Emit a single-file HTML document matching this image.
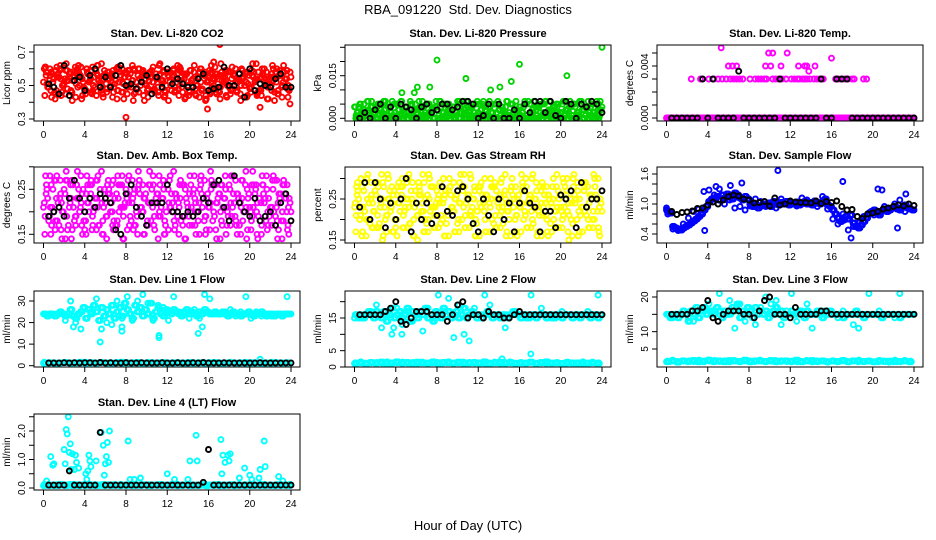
<!DOCTYPE html>
<html><head><meta charset="utf-8"><style>
html,body{margin:0;padding:0;background:#fff;}
svg{display:block;font-family:"Liberation Sans",sans-serif;}
</style></head><body>
<svg id="chart" width="936" height="540" viewBox="0 0 936 540" xmlns="http://www.w3.org/2000/svg">
<text x="468" y="14" font-size="13" text-anchor="middle" xml:space="preserve">RBA_091220  Std. Dev. Diagnostics</text>
<text x="468" y="530" font-size="13" text-anchor="middle">Hour of Day (UTC)</text>
</svg>
<script>
const xTicks=[0,4,8,12,16,20,24];
// CO2 (x0.01)
const co2A=[52,56,49,58,54,47,55,60,51,53,57,46,55,59,50,54,48,58,53,61,49,56,52,45,57,54,50,59,53,47,56,51,58,55,49,60,52,46,55,57,50,53,59,48,54,56,51,47,58,52,55,49,57,53,46,56,50,59,54,48,55,52,57,44,53,58,50,55,47,56,52,59,49,54,57,46,53,55,50,58,48,56,52,45,54,57,51,49,55,53,58,47,56,52,54,50,55];
const co2B=[44,60,42,62,45,58,43,61,47,59,44,63,46,57,42,60,45,62,48,58,43,61,46,59,41,60,44,57,47,62,43,58,46,61,42,59,45,60,41,57,46,63,44,58,47,60,43,59];
const co2OutH=[17.1,16.5,8,15.9,21,22.4,23.9,13,3.4,7.3];
const co2OutV=[74.5,64,31,36,37,41,39,62,62,60];
const co2K=[51,49,45,62,44,53,55,47,56,60,49,55,49,56,62,50,51,48,52,56,45,55,49,60,51,54,51,49,49,54,57,47,48,49,61,50,50,57,43,60,47,51,50,49,54,57,49,49];
// Pressure (x0.001)
const prA=[4,2,5,1,3,6,0,4,2,5,3,1,6,4,2,0,5,3,6,1,4,2,5,0,3,6,2,4,1,5,3,0,4,6,2,5,1,3,4,0,6,2,5,3,1,4,0,5,2,3,6,1,4,2,0,5,3,4,1,6,2,5,0,3,4,2,6,1,5,3,0,4,2,5,6,1,3,4,0,5,2,6,3,1,4,5,0,2,6,3,4,1,5,2,6,3,4];
const prB=[0,0,1,0,0,2,0,0,1,0,0,0,2,0,1,0,0,0,1,0,0,2,0,0,0,1,0,0,0,2,0,0,1,0,0,0,1,0,2,0,0,0,1,0,0,0,2,0];
const prOutH=[8,16,10.8,20.6,15.2,13.2,14.1,6.1,7.3,5.8,4.6,24];
const prOutV=[20.5,19,14,15,13,10,11,11,11,9,9,25];
const prK=[0,2,0,3,5,0,4,0,5,4,3,0,4,5,2,3,5,5,3,4,6,6,5,0,1,5,0,5,0,0,3,0,5,2,6,6,2,6,1,0,6,5,0,5,4,6,5,2];
// Temp (x0.0001)
const tpA=[0,0,0,0,0,0,0,0,0,0,0,0,0,0,0,0,0,0,0,0,0,0,0,0,0,0,0,0,0,0,0,0,0,0,0,0,0,0,0,0,0,0,0,0,0,0,0,0,0,0,0,0,0,0,0,0,0,0,0,0,0,0,0,0,0,0,0,0,0,0,0,0,0,0,0,0,0,0,0,0,0,0,0,0,0,0,0,0,0,0,0,0,0,0,0,0,0];
const tpMidH=[2.4,3.3,4.1,4.6,5,5.4,5.8,6.2,6.5,6.8,7.1,7.4,8.1,8.6,8.9,9.2,9.5,9.7,10.3,10.6,10.9,11.2,11.6,12.1,12.4,12.7,12.9,13.2,13.4,13.6,13.9,14.3,14.6,14.9,15.2,16.4,16.7,17,17.3,17.6,18,18.2,19.1,19.4,5.3,9.9,10.3,11.7,16,6,6.4,6.8,9.6,10.1,11.1,12.8,13.4,13.6,14.4,13.8];
const tpMidV=[30,30,30,30,30,30,30,30,30,30,30,30,30,30,30,30,30,30,30,30,30,30,30,30,30,30,30,30,30,30,30,30,30,30,30,30,30,30,30,30,30,30,30,30,54,50,50,50,46,40,40,40,40,40,40,40,40,40,40,36];
const tpK=[0,0,0,0,0,0,30,0,30,0,0,0,0,36,0,0,0,0,0,0,0,30,0,0,0,0,0,0,0,30,0,0,30,30,30,0,0,0,0,0,0,0,0,0,0,0,0,0];
// Amb box temp (x0.01)
const abA=[21,24,18,26,20,23,17,22,25,19,21,27,18,23,20,24,16,22,26,19,23,21,25,18,22,24,20,27,17,23,21,19,25,22,18,24,20,26,21,23,17,22,25,19,24,20,23,18,26,21,22,24,19,23,17,25,21,20,24,22,18,26,23,19,21,25,20,22,24,18,23,21,26,19,22,24,17,23,20,25,21,19,24,22,18,26,23,20,21,25,19,22,24,18,23,21,20];
const abB=[15,28,16,27,14,26,17,28,15,27,16,29,14,26,17,28,16,27,15,26,17,28,14,27,16,29,15,26,17,28,15,27,16,26,14,28,17,27,15,29,16,26,15,28,17,27,14,26];
const abK=[19,20,21,19,23,27,23,20,23,21,24,23,22,16,15,24,26,21,19,17,22,22,22,26,20,20,19,20,19,20,23,22,26,27,21,18,28,22,20,19,23,18,19,20,17,22,24,18];
// RH (x0.01)
const rhA=[23,26,20,28,22,25,19,24,27,21,23,29,20,25,22,26,18,24,28,21,25,23,27,20,24,26,22,29,19,25,23,21,27,24,20,26,22,28,23,25,19,24,27,21,26,22,25,20,28,23,24,26,21,25,19,27,23,22,26,24,20,28,25,21,23,27,22,24,26,20,25,23,28,21,24,26,19,25,22,27,23,21,26,24,20,28,25,22,23,27,21,24,26,20,25,23,22];
const rhB=[17,30,16,29,18,31,17,28,16,30,18,29,15,31,17,28,18,30,16,29,17,31,18,28,16,30,17,29,18,31,16,28,17,30,18,29,16,28,17,31,18,30,16,29,17,28,18,30];
const rhK=[23,29,20,29,25,18,24,20,25,30,17,24,20,24,19,21,28,22,21,27,28,25,19,17,25,21,17,25,20,24,17,24,27,24,23,17,22,22,18,26,25,27,18,29,23,25,25,27];
// Sample flow (x0.01)
const sfA=[88,85,82,55,52,50,48,52,55,58,62,66,70,75,80,88,95,105,110,112,115,108,118,112,120,115,110,122,118,112,108,115,110,100,95,98,92,96,100,98,102,95,105,100,98,103,100,105,98,102,100,104,98,101,105,100,103,98,106,102,100,105,110,98,95,88,80,72,65,68,75,70,78,62,55,52,58,65,72,80,85,88,82,78,86,90,85,88,92,95,90,88,94,98,92,90,88];
const sfB=[80,50,47,60,72,85,90,125,128,118,130,100,108,92,95,88,96,110,105,95,100,92,110,104,100,96,112,108,100,95,115,90,70,60,80,48,55,62,75,82,78,85,95,88,100,108,85,90];
const sfOutH=[0,3.7,10.8,17.1,17.9,20.5,20.9,22.4,23.2,7.3,4.8,6.2];
const sfOutV=[92,47,167,145,32,130,128,52,120,142,135,137];
const sfK=[85,79,83,84,86,91,92,98,104,100,108,115,118,116,110,108,102,103,105,96,112,98,100,106,104,103,103,102,106,101,105,103,106,95,88,89,75,71,80,82,85,90,92,95,98,96,100,97];
// Line 1
const l1A=[24,24,23,24,24,23,24,25,24,23,24,26,23,22,24,25,27,22,26,24,28,25,21,27,23,26,24,28,22,25,27,23,29,26,24,22,28,25,27,23,26,24,29,22,25,27,24,23,26,25,24,26,25,24,23,25,26,24,25,24,23,25,24,26,25,24,24,25,24,24,25,24,23,24,25,24,24,23,24,24,25,24,23,24,24,25,24,23,24,24,23,24,24,23,24,24,24];
const l1B=[24,24,23,25,21,30,20,17,22,25,31,17,20,19,30,22,32,21,30,33,29,21,28,27,21,32,25,24,22,26,22,33,31,24,24,25,26,23,25,32,22,25,23,24,23,24,23,32];
const l1OutH=[5.5,11.2,11.2,15,15.4,2.9,7.6,7.6,21];
const l1OutV=[11,13,14,15,18,18,16,18,3];
const l1Low=[1.2,1.4,1.1,1.3,1.5,1.2,1.3,1.6,1.2,1.4,1.1,1.5,1.3,1.2,1.4,1.6,1.2,1.3,1.5,1.1,1.4,1.2,1.3,1.5,1.2,1.4,1.3,1.1,1.5,1.2,1.4,1.3,1.2,1.5,1.1,1.3,1.4,1.2,1.3,1.5,1.2,1.4,1.1,1.3,1.2,1.4,1.3,1.2];
const l1K=[1.3,1.3,1.3,1.4,1.3,1.4,1.3,1.4,1.4,1.3,1.5,1.3,1.4,1.3,1.3,1.4,1.3,1.3,1.4,1.3,1.3,1.3,1.4,1.3,1.3,1.4,1.3,1.3,1.4,1.3,1.5,1.3,1.3,1.3,1.4,1.3,1.3,1.3,1.3,1.3,1.3,1.4,1.3,1.3,1.3,1.3,1.3,1.3];
// Line 2
const l2A=[15,16,15,16,15,16,17,16,15,17,16,15,17,14,16,18,15,16,17,15,16,18,14,17,16,15,17,16,18,15,16,14,17,16,15,18,16,17,15,16,17,15,16,18,15,16,17,16,15,16,15,16,17,16,15,16,16,15,16,16,15,16,17,16,16,15,16,16,15,16,16,15,16,16,16,15,16,16,15,16,16,15,16,16,16,15,16,16,15,16,16,16,15,16,16,15,16];
const l2B=[16,15,16,17,19,12,16,10,18,13,17,14,16,11,18,15,22,17,21,9,19,10,8,18,16,22,19,16,15,12,16,17,16,15,22,16,18,16,15,16,17,16,15,16,16,17,16,22];
const l2OutH=[17.1,14.3,3.8,4.6];
const l2OutV=[4,2.5,12,10];
const l2Low=[1.1,1.3,1.0,1.4,1.2,1.5,1.1,1.3,1.6,1.2,1.4,1.1,1.5,1.3,1.2,1.6,1.1,1.4,1.3,1.2,1.5,1.1,1.3,1.4,1.2,1.6,1.1,1.3,1.5,1.2,1.4,1.1,1.3,1.2,1.5,1.1,1.4,1.6,1.2,1.3,1.1,1.4,1.2,1.3,1.1,1.2,1.3,1.1];
const l2K=[16,16,16,16,16,17,18,20,14,13,15,17,17,17,16,16,16,14,16,19,20,15,16,16,15,17,16,16,15,15,16,17,16,16,16,16,16,16,16,16,16,16,16,16,16,16,16,16];
// Line 3
const l3A=[15,15,14,15,15,14,15,16,15,13,16,15,17,14,16,17,15,16,16,15,17,16,14,16,15,15,17,16,18,14,16,15,17,16,14,17,15,16,15,16,14,15,16,17,15,16,14,15,15,16,15,15,16,15,14,16,15,15,15,16,15,14,16,15,16,15,15,15,15,14,15,15,15,15,16,15,15,14,15,15,15,15,15,15,14,15,15,15,15,15,15,14,15,15,15,15,15];
const l3B=[15,14,15,16,14,13,16,17,18,16,21,16,19,11,18,13,16,12,17,20,18,19,12,16,21,13,16,18,11,15,15,16,15,14,16,15,12,11,15,21,15,16,15,15,14,21,15,15];
const l3Low=[1.3,1.5,1.2,1.6,1.4,1.7,1.3,1.5,1.8,1.4,1.6,1.3,1.7,1.5,1.4,1.8,1.3,1.6,1.5,1.4,1.7,1.3,1.5,1.6,1.4,1.8,1.3,1.5,1.7,1.4,1.6,1.3,1.5,1.4,1.7,1.3,1.6,1.5,1.4,1.5,1.3,1.6,1.4,1.5,1.3,1.4,1.5,1.3];
const l3K=[15,15,15,15,16,16,17,19,14,13,15,16,16,16,15,15,14,16,19,20,15,15,15,14,17,15,15,15,15,16,16,15,15,15,15,15,15,15,15,15,15,15,15,15,15,15,15,15];
// Line 4
const l4A=[8,10,12,9,11,8,10,13,9,11,10,8,12,9,10,11,8,13,10,9,12,8,11,10,9,12,10,8,11,9,13,10,8,11,12,9,10,8,11,10,9,12,8,10,11,9,12,10,8,11,10,9,13,8,10,11,9,12,10,8,11,9,10,12,8,10,11,9,13,10,8,11,10,9,12,8,10,11,9,10,12,8,11,10,9,12,10,8,11,9,10,12,8,10,11,9,10];
const l4OutH=[0.7,0.9,1.0,0.3,2.2,2.3,2.4,2.6,2.0,2.1,2.5,2.8,3.1,3.2,3.0,3.4,2.7,4.1,4.2,4.3,4.4,4.5,4.6,5.1,5.6,5.8,5.9,6.0,6.1,6.2,6.4,6.3,8.2,8.4,8.8,9.4,12.0,12.7,14.0,14.2,14.8,14.9,17.2,17.4,17.3,17.6,17.9,18.1,18.0,19.0,19.5,20.0,20.2,20.9,21.0,21.4,21.5,22.8,23.2];
const l4OutV=[110,80,85,25,205,190,250,155,135,85,125,120,115,90,65,70,65,50,30,60,115,95,75,95,195,150,45,85,110,160,200,90,165,30,30,35,50,30,30,95,185,95,170,115,50,90,115,120,95,35,70,45,30,35,65,165,75,40,25];
const l4K=[10,10,10,10,60,10,10,10,10,10,195,10,10,10,10,10,10,10,10,10,10,10,10,10,10,10,10,10,10,10,20,135,10,10,10,10,10,10,10,10,10,10,10,10,10,10,10,10];

const RED='#ff0000',GRN='#00d200',MAG='#ff00ff',YEL='#ffff00',BLU='#0000ff',CYN='#00ffff',BLK='#000000';
const NS='http://www.w3.org/2000/svg';
const svg=document.getElementById('chart');
const colLeft=[34,345,657],rowTop=[45,167,291,414],BW=266,BH=76;
function mk(tag,attrs,parent){const e=document.createElementNS(NS,tag);for(const k in attrs)e.setAttribute(k,attrs[k]);(parent||svg).appendChild(e);return e;}

const panels=[
 {c:0,r:0,name:'co2',title:'Stan. Dev. Li-820 CO2',ylab:'Licor ppm',v1:0.3,p1:119,v2:0.7,p2:52,ticks:[0.3,0.4,0.5,0.6,0.7],labels:{'0.3':'0.3','0.5':'0.5','0.7':'0.7'},
  s:[{v:co2A,st:0,dt:0.25,k:0.01,col:RED,d:1},{v:co2B,st:0.125,dt:0.5,k:0.01,col:RED,d:1},{h:co2OutH,v:co2OutV,k:0.01,col:RED},{v:co2K,st:0.5,dt:0.5,k:0.01,col:BLK}]},
 {c:1,r:0,name:'pressure',title:'Stan. Dev. Li-820 Pressure',ylab:'kPa',v1:0,p1:118.3,v2:0.015,p2:75.7,ticks:[0,0.005,0.01,0.015,0.02,0.025],labels:{'0':'0.000','0.015':'0.015'},
  s:[{v:prA,st:0,dt:0.25,k:0.001,col:GRN,d:1},{v:prB,st:0.125,dt:0.5,k:0.001,col:GRN,d:1},{h:prOutH,v:prOutV,k:0.001,col:GRN},{v:prK,st:0.5,dt:0.5,k:0.001,col:BLK}]},
 {c:2,r:0,name:'temp',title:'Stan. Dev. Li-820 Temp.',ylab:'degrees C',v1:0,p1:118,v2:0.004,p2:66,ticks:[0,0.001,0.002,0.003,0.004,0.005],labels:{'0':'0.000','0.004':'0.004'},
  s:[{v:tpA,st:0,dt:0.25,k:0.0001,col:MAG,d:1},{h:tpMidH,v:tpMidV,k:0.0001,col:MAG},{v:tpK,st:0.5,dt:0.5,k:0.0001,col:BLK}]},
 {c:0,r:1,name:'amb-box',title:'Stan. Dev. Amb. Box Temp.',ylab:'degrees C',v1:0.15,p1:234.3,v2:0.25,p2:189.3,ticks:[0.15,0.2,0.25,0.3],labels:{'0.15':'0.15','0.25':'0.25'},
  s:[{v:abA,st:0,dt:0.25,k:0.01,col:MAG,d:1},{v:abB,st:0.125,dt:0.5,k:0.01,col:MAG,d:1},{v:abK,st:0.5,dt:0.5,k:0.01,col:BLK}]},
 {c:1,r:1,name:'rh',title:'Stan. Dev. Gas Stream RH',ylab:'percent',v1:0.15,p1:240,v2:0.25,p2:199,ticks:[0.15,0.2,0.25,0.3],labels:{'0.15':'0.15','0.25':'0.25'},
  s:[{v:rhA,st:0,dt:0.25,k:0.01,col:YEL,d:1},{v:rhB,st:0.125,dt:0.5,k:0.01,col:YEL,d:1},{v:rhK,st:0.5,dt:0.5,k:0.01,col:BLK}]},
 {c:2,r:1,name:'sample-flow',title:'Stan. Dev. Sample Flow',ylab:'ml/min',v1:0.4,p1:234,v2:1.6,p2:174,ticks:[0.4,0.6,0.8,1.0,1.2,1.4,1.6],labels:{'0.4':'0.4','1':'1.0','1.6':'1.6'},
  s:[{v:sfA,st:0,dt:0.25,k:0.01,col:BLU,d:1,nb:1},{v:sfB,st:0.125,dt:0.5,k:0.01,col:BLU},{h:sfOutH,v:sfOutV,k:0.01,col:BLU},{v:sfK,st:0.5,dt:0.5,k:0.01,col:BLK}]},
 {c:0,r:2,name:'line1',title:'Stan. Dev. Line 1 Flow',ylab:'ml/min',v1:0,p1:365.7,v2:30,p2:301,ticks:[0,10,20,30],labels:{'0':'0','10':'10','20':'20','30':'30'},
  s:[{v:l1A,st:0,dt:0.25,k:1,col:CYN,d:1,nb:1},{v:l1B,st:0.125,dt:0.5,k:1,col:CYN},{h:l1OutH,v:l1OutV,k:1,col:CYN},{v:l1Low,st:0,dt:0.5,k:1,col:CYN,d:1},{v:l1Low,st:0.25,dt:0.5,k:1,col:CYN},{v:l1K,st:0.5,dt:0.5,k:1,col:BLK}]},
 {c:1,r:2,name:'line2',title:'Stan. Dev. Line 2 Flow',ylab:'ml/min',v1:0,p1:367,v2:15,p2:318,ticks:[0,5,10,15,20],labels:{'0':'0','5':'5','15':'15'},
  s:[{v:l2A,st:0,dt:0.25,k:1,col:CYN,d:1,nb:1},{v:l2B,st:0.125,dt:0.5,k:1,col:CYN},{h:l2OutH,v:l2OutV,k:1,col:CYN},{v:l2Low,st:0,dt:0.5,k:1,col:CYN,d:1},{v:l2Low,st:0.25,dt:0.5,k:1,col:CYN},{v:l2K,st:0.5,dt:0.5,k:1,col:BLK}]},
 {c:2,r:2,name:'line3',title:'Stan. Dev. Line 3 Flow',ylab:'ml/min',v1:5,p1:349,v2:20,p2:297,ticks:[5,10,15,20],labels:{'5':'5','10':'10','20':'20'},
  s:[{v:l3A,st:0,dt:0.25,k:1,col:CYN,d:1,nb:1},{v:l3B,st:0.125,dt:0.5,k:1,col:CYN},{v:l3Low,st:0,dt:0.5,k:1,col:CYN,d:1},{v:l3Low,st:0.25,dt:0.5,k:1,col:CYN},{v:l3K,st:0.5,dt:0.5,k:1,col:BLK}]},
 {c:0,r:3,name:'line4',title:'Stan. Dev. Line 4 (LT) Flow',ylab:'ml/min',v1:0,p1:488,v2:2,p2:431,ticks:[0,0.5,1,1.5,2,2.5],labels:{'0':'0.0','1':'1.0','2':'2.0'},
  s:[{v:l4A,st:0,dt:0.25,k:0.01,col:CYN,d:1},{h:l4OutH,v:l4OutV,k:0.01,col:CYN},{v:l4K,st:0.5,dt:0.5,k:0.01,col:BLK}]}
];

panels.forEach(p=>{
 const L=colLeft[p.c],T=rowTop[p.r],B=T+BH;
 const g=mk('g',{});
 
 
 const xs=h=>L+9.5+h*(247.5/24);
 const ys=v=>p.p1+(v-p.v1)*(p.p2-p.p1)/(p.v2-p.v1);
 const clip='clip-'+p.name;
 const cp=mk('clipPath',{id:clip},g);mk('rect',{x:L,y:T,width:BW,height:BH},cp);
 const pts=mk('g',{'clip-path':'url(#'+clip+')',fill:'none','stroke-width':1.9},g);
 
 
 p.s.forEach(s=>{
  const n=s.v.length;
  // dense series: also plot neighbouring samples between grid times
  const passes=s.d?(s.nb?[[0,0],[0.08,1],[0.16,1]]:[[0,0],[0.08,7],[0.16,19]]):[[0,0]];
  passes.forEach(([off,sh])=>{
   s.v.forEach((val0,i)=>{
    const h=(s.h?s.h[i]:s.st+i*s.dt)+off;
    if(h>24.05)return;
    const val=sh?s.v[(i+sh)%n]:val0;
    const c=mk('circle',{cx:xs(h).toFixed(1),cy:ys(val*s.k).toFixed(1),r:2.5,stroke:s.col},pts);
    
    
   });
  });
 });
 const box=mk('rect',{x:L,y:T,width:BW,height:BH,fill:'none',stroke:'#000','stroke-width':1},g);
 
 
 const tt=mk('text',{x:L+BW/2,y:T-8,'font-size':11,'font-weight':'bold','text-anchor':'middle'},g);
 tt.textContent=p.title;
 
 
 xTicks.forEach(h=>{
  const x=xs(h);
  mk('line',{x1:x,y1:B,x2:x,y2:B+5,stroke:'#000'},g);
  const t=mk('text',{x:x,y:B+17,'font-size':10,'text-anchor':'middle'},g);
  t.textContent=h;
  
  
 });
 p.ticks.forEach(v=>{
  const y=ys(v);
  mk('line',{x1:L-5,y1:y,x2:L,y2:y,stroke:'#000'},g);
  const key=String(+v.toFixed(6));
  if(p.labels[key]){
   const t=mk('text',{x:L-9,y:y,'font-size':10,'text-anchor':'middle',transform:'rotate(-90 '+(L-9)+' '+y+')'},g);
   t.textContent=p.labels[key];
   
   
  }
 });
 const yl=mk('text',{x:L-24,y:T+BH/2,'font-size':10,'text-anchor':'middle',transform:'rotate(-90 '+(L-24)+' '+(T+BH/2)+')'},g);
 yl.textContent=p.ylab;
 
 
});
</script>
</body></html>
